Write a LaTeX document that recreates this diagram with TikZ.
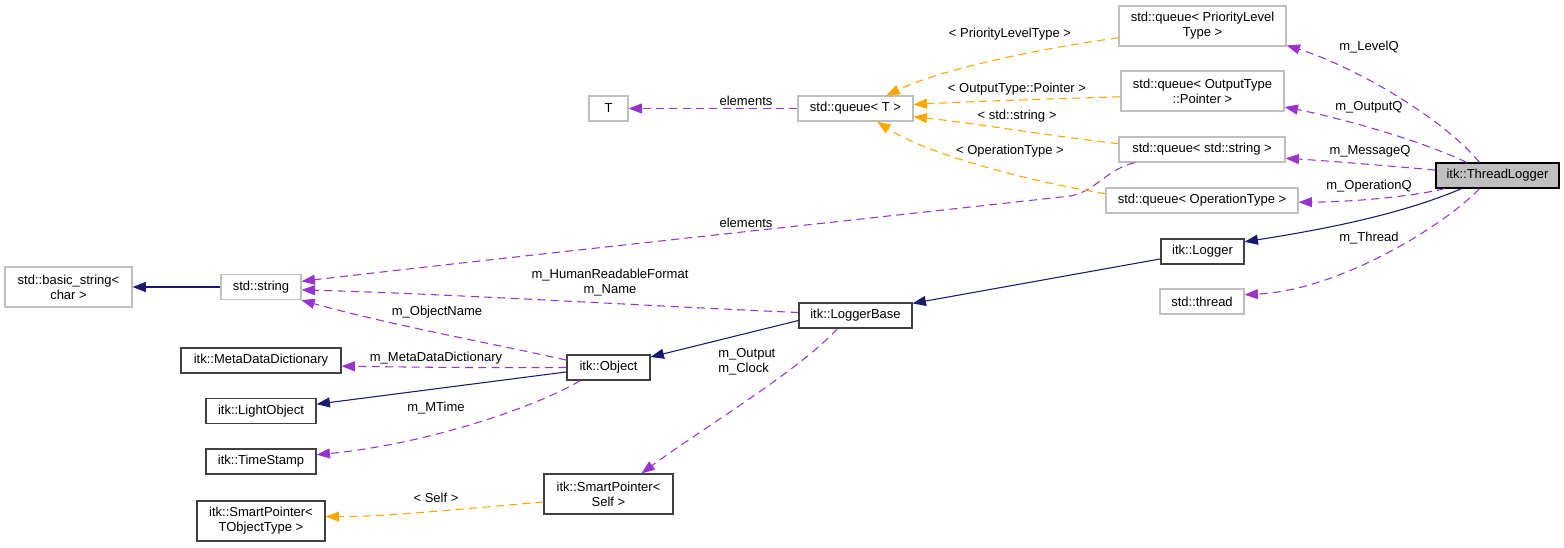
\documentclass[tikz,border=0pt]{standalone}
\usepackage{fontspec}
\setmainfont{Liberation Sans}
\usetikzlibrary{arrows.meta}
\definecolor{navyc}{HTML}{191970}
\definecolor{orch}{HTML}{9A32CD}
\definecolor{orng}{HTML}{FFA500}
\definecolor{lgray}{HTML}{BFBFBF}
\definecolor{dgray}{HTML}{404040}
\begin{document}
\begin{tikzpicture}[x=0.75pt,y=-0.75pt,
 every node/.style={font=\fontsize{9.75}{11.25}\selectfont, inner sep=0pt, align=center},
 box/.style={draw=dgray, line width=0.9pt, minimum height=18.75pt, fill=white},
 lbox/.style={draw=lgray, line width=0.9pt, minimum height=18.75pt, fill=white},
 tall/.style={minimum height=30pt},
 inh/.style={draw=navyc, line width=0.8pt, -{Triangle[length=10pt,width=7.5pt]}},
 use/.style={draw=orch, line width=0.8pt, dash pattern=on 6pt off 4pt, -{Triangle[length=10pt,width=7.5pt]}},
 tpl/.style={draw=orng, line width=0.8pt, dash pattern=on 6pt off 4pt, -{Triangle[length=10pt,width=7.5pt]}}
]
\useasboundingbox (0,0) rectangle (1564,547);
% nodes
\node[box, fill=lgray, draw=black, minimum width=92.25pt] (TL) at (1497.5,175.5) {itk::ThreadLogger};
\node[lbox, tall, minimum width=125.25pt] (QPL) at (1202.5,26) {std::queue< PriorityLevel\\Type >};
\node[lbox, tall, minimum width=122.25pt] (QOP) at (1202.5,91) {std::queue< OutputType\\::Pointer >};
\node[lbox, minimum width=124.5pt] (QSS) at (1202,149.5) {std::queue< std::string >};
\node[lbox, minimum width=144pt] (QOT) at (1202,200.5) {std::queue< OperationType >};
\node[box, minimum width=62.25pt] (LOG) at (1202.5,251.5) {itk::Logger};
\node[lbox, minimum width=63pt] (THR) at (1202,301.5) {std::thread};
\node[lbox, minimum width=86.25pt] (QT) at (855.5,108.5) {std::queue< T >};
\node[lbox, minimum width=29.25pt] (T) at (608.5,108.5) {T};
\node[box, minimum width=84.75pt] (LB) at (855.5,315.5) {itk::LoggerBase};
\node[box, minimum width=62.25pt] (OBJ) at (608.5,367.5) {itk::Object};
\node[box, tall, minimum width=96.75pt] (SPS) at (608.5,494) {itk::SmartPointer<\\Self >};
\node[lbox, tall, minimum width=95.25pt] (BS) at (68.5,287) {std::basic\_string<\\char >};
\node[lbox, minimum width=60pt] (STR) at (261,287) {std::string};
\node[box, minimum width=120pt] (MDD) at (261,360.5) {itk::MetaDataDictionary};
\node[box, minimum width=82.5pt] (LO) at (261,411) {itk::LightObject};
\node[box, minimum width=82.5pt] (TS) at (261,461.5) {itk::TimeStamp};
\node[box, tall, minimum width=96pt] (SPT) at (261,521) {itk::SmartPointer<\\TObjectType >};
% inheritance
\draw[inh] (TL.200) .. controls (1400,215) and (1320,230) .. (LOG.13);
\draw[inh] (LOG.190) -- (LB.12);
\draw[inh] (LB.185) -- (OBJ.14);
\draw[inh] (OBJ.186) -- (LO.7);
\draw[inh] (STR.west) -- (BS.east);
% usage
\draw[use] (TL.144) .. controls (1440,115) and (1350,65) .. (QPL.347);
\draw[use] (TL.157) .. controls (1420,140) and (1340,118) .. (QOP.349);
\draw[use] (TL.175) .. controls (1390,166) and (1330,161) .. (QSS.354);
\draw[use] (TL.194) .. controls (1410,197) and (1350,202) .. (QOT.359);
\draw[use] (TL.216) .. controls (1445,225) and (1340,290) .. (THR.9);
\draw[use] (QT.west) -- (T.east);
\draw[use] (QSS.191) .. controls (1105,170) and (1095,192) .. (1070,196) .. controls (900,215) and (500,258) .. (STR.8);
\draw[use] (LB.177) .. controls (650,306) and (450,294) .. (STR.356);
\draw[use] (OBJ.170) .. controls (500,345) and (390,325) .. (STR.342);
\draw[use] (OBJ.west) .. controls (480,368) and (400,367) .. (MDD.356);
\draw[use] (OBJ.205) .. controls (530,410) and (420,445) .. (TS.7);
\draw[use] (LB.216) .. controls (800,370) and (700,430) .. (SPS.32);
% templates
\draw[tpl] (QPL.188) .. controls (1030,50) and (940,70) .. (QT.23);
\draw[tpl] (QOP.184) .. controls (1050,99) and (980,101) .. (QT.4);
\draw[tpl] (QSS.176) .. controls (1050,136) and (980,124) .. (QT.352);
\draw[tpl] (QOT.176) .. controls (1010,178) and (920,150) .. (QT.329);
\draw[tpl] (SPS.187) .. controls (450,510) and (380,517) .. (SPT.4);
% labels
\node (l1) at (1369,47) {m\_LevelQ};
\node (l2) at (1369,107) {m\_OutputQ};
\node (l3) at (1370,151) {m\_MessageQ};
\node (l4) at (1369,186) {m\_OperationQ};
\node (l5) at (1369,238) {m\_Thread};
\node (l6) at (1010,34) {< PriorityLevelType >};
\node (l7) at (1017,89) {< OutputType::Pointer >};
\node (l8) at (1017,116) {< std::string >};
\node (l9) at (1010,151) {< OperationType >};
\node (l10) at (746,101) {elements};
\node (l11) at (746,223) {elements};
\node (l12) at (610,283) {m\_HumanReadableFormat\\m\_Name};
\node (l13) at (437,312) {m\_ObjectName};
\node (l14) at (436,358) {m\_MetaDataDictionary};
\node (l15) at (436,408) {m\_MTime};
\node[anchor=west, align=left] (l16) at (718,362) {m\_Output\\m\_Clock};
\node (l17) at (436,498) {< Self >};
\end{tikzpicture}
\end{document}
